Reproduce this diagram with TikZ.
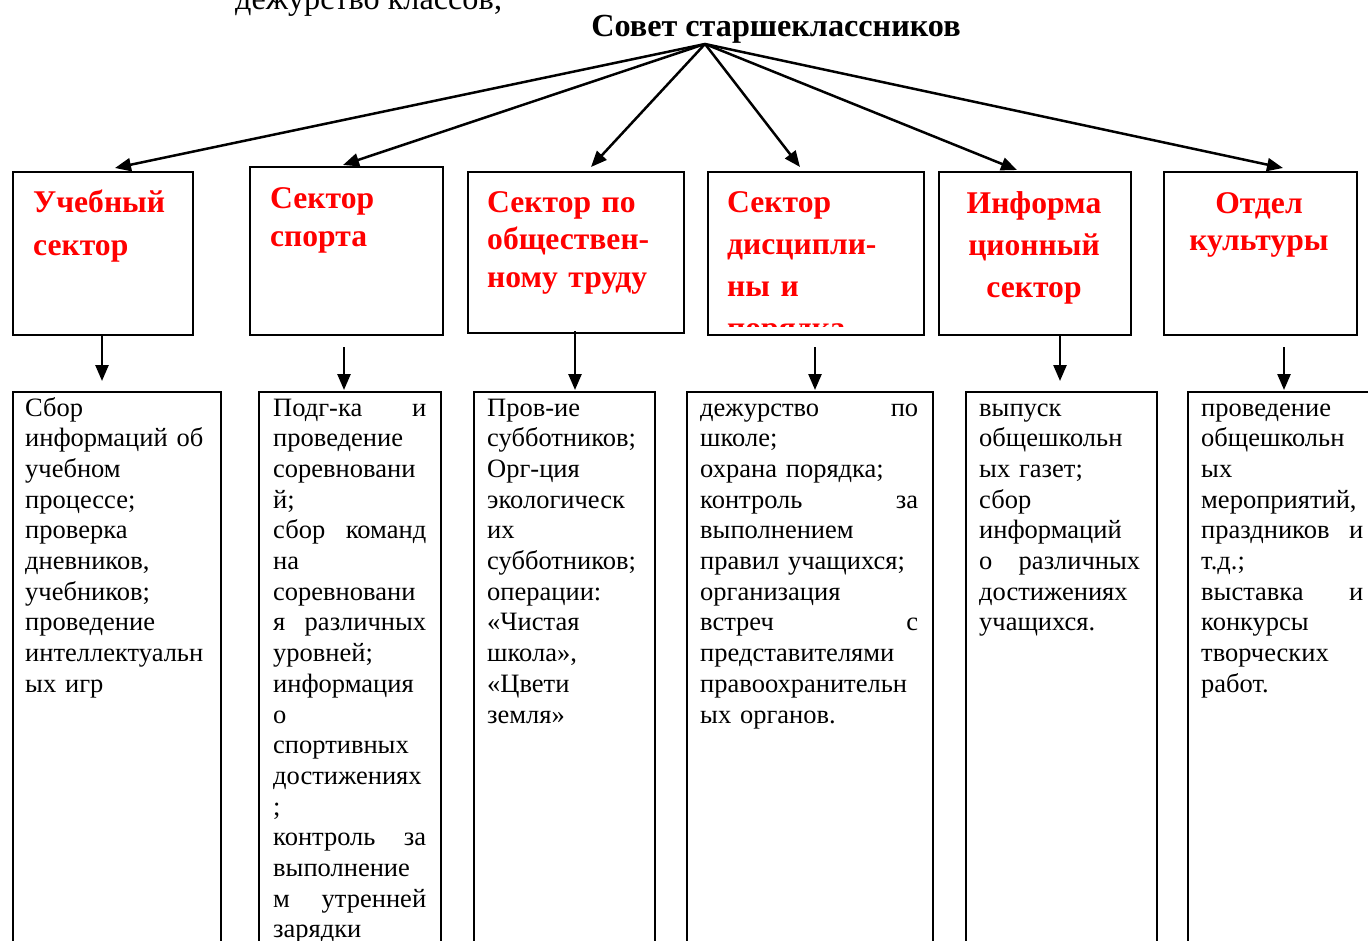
\documentclass[tikz,border=0pt]{standalone}
\usepackage{fontspec}
\setmainfont{Liberation Serif}
\usetikzlibrary{arrows.meta}
\definecolor{titlered}{RGB}{255,0,0}
\tikzset{
  box/.style={draw, line width=2.4pt, anchor=north west, inner sep=0pt},
  arr/.style={-{Triangle[length=16pt,width=13pt]}, line width=2.5pt},
  body/.style={anchor=base west, inner sep=0pt, align=left, text width=#1,
    font=\fontsize{26.5}{30.7}\selectfont},
  ttl/.style={anchor=base west, inner sep=0pt, align=left, text width=200pt, text=titlered,
    font=\bfseries\fontsize{31.6}{#1}\selectfont},
  ttlc/.style={anchor=base, inner sep=0pt, align=center, text width=190pt, text=titlered,
    font=\bfseries\fontsize{31.6}{#1}\selectfont},
}
\begin{document}
\begin{tikzpicture}[x=1pt,y=-1pt]
\useasboundingbox (0,0) rectangle (1368,940);
\fill[white] (0,0) rectangle (1368,940);

% cut-off text at top
\node[anchor=base west, inner sep=0pt, font=\fontsize{32.2}{37}\selectfont] (prev) at (235,9) {дежурство классов;};

% title
\node[anchor=base, inner sep=0pt, font=\bfseries\fontsize{32.2}{36}\selectfont] (T) at (776,36) {Совет старшеклассников};
\coordinate (apex) at (705,44);

% top boxes
\node[box, minimum width=180pt, minimum height=163pt] (t1) at (12,171) {};
\node[box, minimum width=193pt, minimum height=168pt] (t2) at (249,166) {};
\node[box, minimum width=216pt, minimum height=161pt] (t3) at (467,171) {};
\node[box, minimum width=216pt, minimum height=163pt] (t4) at (707,171) {};
\node[box, minimum width=192pt, minimum height=163pt] (t5) at (938,171) {};
\node[box, minimum width=193pt, minimum height=163pt] (t6) at (1163,171) {};

% titles
\node[ttl=43] (h1) at (33,212) {Учебный\\сектор};
\node[ttl=38] (h2) at (270,208) {Сектор\\спорта};
\node[ttl=37.5] (h3) at (487,212) {Сектор по\\обществен-\\ному труду};
\begin{scope}
\clip (707,171) rectangle (923,326);
\node[ttl=42] (h4) at (727,212) {Сектор\\дисципли-\\ны и\\порядка};
\end{scope}
\node[ttlc=42] (h5) at (1034,213) {Информа\\ционный\\сектор};
\node[ttlc=37] (h6) at (1259,213) {Отдел\\культуры};

% arrows from council
\draw[arr] (apex) -- ([xshift=103pt,yshift=3pt]t1.north west);
\draw[arr] (apex) -- ([xshift=94pt,yshift=1pt]t2.north west);
\draw[arr] (apex) -- ([xshift=124pt,yshift=4pt]t3.north west);
\draw[arr] (apex) -- ([xshift=93pt,yshift=4pt]t4.north west);
\draw[arr] (apex) -- ([xshift=79pt,yshift=1pt]t5.north west);
\draw[arr] (apex) -- ([xshift=120pt,yshift=3pt]t6.north west);

% lower boxes
\node[box, minimum width=208pt, minimum height=600pt] (d1) at (12,391) {};
\node[box, minimum width=182pt, minimum height=600pt] (d2) at (258,391) {};
\node[box, minimum width=181pt, minimum height=600pt] (d3) at (473,391) {};
\node[box, minimum width=246pt, minimum height=600pt] (d4) at (686,391) {};
\node[box, minimum width=191pt, minimum height=600pt] (d5) at (965,391) {};
\node[box, minimum width=200pt, minimum height=600pt] (d6) at (1187,391) {};

% down arrows
\draw[arr] ([xshift=90pt]t1.south west) -- ([xshift=90pt,yshift=10pt]d1.north west);
\draw[arr] ([xshift=95pt,yshift=-11pt]t2.south west) -- ([xshift=86pt,yshift=1pt]d2.north west);
\draw[arr] ([xshift=108pt,yshift=3pt]t3.south west) -- ([xshift=102pt,yshift=1pt]d3.north west);
\draw[arr] ([xshift=108pt,yshift=-11pt]t4.south west) -- ([xshift=129pt,yshift=1pt]d4.north west);
\draw[arr] ([xshift=122pt]t5.south west) -- ([xshift=95pt,yshift=10pt]d5.north west);
\draw[arr] ([xshift=121pt,yshift=-11pt]t6.south west) -- ([xshift=97pt,yshift=1pt]d6.north west);

% body texts
\node[body=192pt] (x1) at (25,416) {Сбор\\информаций об\\учебном\\процессе;\\проверка\\дневников,\\учебников;\\проведение\\интеллектуальн\\ых игр};
\node[body=153pt] (x2) at (273,416) {Подг-ка\hfill и\\проведение\\соревновани\\й;\\сбор\hfill команд\\на\\соревновани\\я\hfill различных\\уровней;\\информация\\о\\спортивных\\достижениях\\;\\контроль\hfill за\\выполнение\\м\hfill утренней\\зарядки};
\node[body=162pt] (x3) at (487,416) {Пров-ие\\субботников;\\Орг-ция\\экологическ\\их\\субботников;\\операции:\\«Чистая\\школа»,\\«Цвети\\земля»};
\node[body=218pt] (x4) at (700,416) {дежурство\hfill по\\школе;\\охрана порядка;\\контроль\hfill за\\выполнением\\правил учащихся;\\организация\\встреч\hfill с\\представителями\\правоохранительн\\ых органов.};
\node[body=161pt] (x5) at (979,416) {выпуск\\общешкольн\\ых газет;\\сбор\\информаций\\о\hfill различных\\достижениях\\учащихся.};
\node[body=162pt] (x6) at (1201,416) {проведение\\общешкольн\\ых\\мероприятий,\\праздников\hfill и\\т.д.;\\выставка\hfill и\\конкурсы\\творческих\\работ.};
\end{tikzpicture}
\end{document}
